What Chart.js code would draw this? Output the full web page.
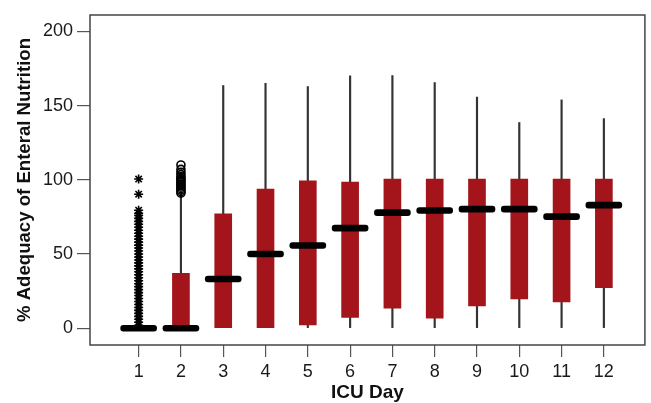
<!DOCTYPE html>
<html>
<head>
<meta charset="utf-8">
<script src="https://cdn.jsdelivr.net/npm/chart.js@4.4.1/dist/chart.umd.min.js"></script>
<style>
  html, body { margin: 0; padding: 0; background: #fff; }
  #wrap { width: 651px; height: 403px; }
</style>
</head>
<body>
<div id="wrap"><canvas id="box-chart"></canvas></div>
<script>
var days = [1, 2, 3, 4, 5, 6, 7, 8, 9, 10, 11, 12];
var whiskerLow  = [0, 0, 0, 0, 0, 0, 0, 0, 0, 0, 0, 0];
var whiskerHigh = [0, 91, 163.5, 165, 162.8, 170, 170.2, 165.5, 155.7, 138.6, 153.8, 141.2];
var q1      = [0, 0, 0, 0, 2.2, 7.2, 13.5, 6.7, 15, 19.7, 17.7, 27.4];
var q3      = [0, 37, 77, 93.7, 99.3, 98.4, 100.5, 100.5, 100.5, 100.5, 100.5, 100.5];
var medians = [0, 0, 33.2, 50, 55.7, 67.4, 77.9, 79.3, 80.2, 80.2, 75.2, 82.9];
// outliers (day 1 stars, day 2 circles)
var day1Outliers = [100.5, 90.3, 79.5, 77.5, 76, 74, 72, 70, 68, 66, 64, 62, 60, 58, 56, 54, 52, 50,
  48, 46, 44, 42, 40, 38, 36, 34, 32, 30, 28, 26, 24, 22, 20, 18, 16, 14, 12, 10, 8, 6, 4, 2];
var day2Outliers = [110, 107, 105, 103.5, 102, 101, 100, 99, 98, 97, 96, 95, 94, 93, 92, 91];
var yTicks = [0, 50, 100, 150, 200];

var boxRed = '#a3151b';
var font = "'Liberation Sans', Arial, Helvetica, sans-serif";

function pairs(lo, hi) {
  return days.map(function (d, i) { return { x: d, y: [lo[i], hi[i]] }; });
}

var frame = {
  id: 'frame',
  afterDraw: function (chart) {
    var a = chart.chartArea, ctx = chart.ctx;
    ctx.save();
    ctx.strokeStyle = '#444';
    ctx.lineWidth = 1.5;
    ctx.strokeRect(a.left, a.top, a.right - a.left, a.bottom - a.top);
    ctx.restore();
  }
};

new Chart(document.getElementById('box-chart'), {
  type: 'bar',
  data: {
    datasets: [{
      label: 'whisker',
      data: pairs(whiskerLow, whiskerHigh),
      backgroundColor: '#333',
      barThickness: 1.5,
      grouped: false,
      order: 4
    }, {
      label: 'box',
      data: pairs(q1, q3),
      backgroundColor: boxRed,
      barThickness: 17,
      grouped: false,
      order: 3
    }, {
      label: 'median',
      data: days.map(function (d, i) { return { x: d, y: [medians[i] - 2, medians[i] + 2] }; }),
      backgroundColor: '#000',
      barThickness: 36,
      borderRadius: 3,
      borderSkipped: false,
      grouped: false,
      order: 2
    }, {
      type: 'scatter',
      label: 'day 1 outliers',
      data: day1Outliers.map(function (v) { return { x: 1, y: v }; }),
      pointStyle: 'star',
      radius: 4.5,
      borderColor: '#000',
      borderWidth: 1.6,
      order: 1
    }, {
      type: 'scatter',
      label: 'day 2 outliers',
      data: day2Outliers.map(function (v) { return { x: 2, y: v }; }),
      pointStyle: 'circle',
      radius: 4,
      backgroundColor: 'rgba(0,0,0,0)',
      borderColor: '#000',
      borderWidth: 1.6,
      order: 1
    }]
  },
  options: {
    responsive: true,
    maintainAspectRatio: false,
    animation: false,
    layout: { padding: { top: 15, right: 1, left: 0, bottom: 0 } },
    plugins: { legend: { display: false }, tooltip: { enabled: false } },
    scales: {
      x: {
        type: 'linear',
        offset: false,
        min: -0.15,
        max: 12.97,
        afterBuildTicks: function (scale) { scale.ticks = days.map(function (d) { return { value: d }; }); },
        afterFit: function (scale) { scale.height = 58; },
        grid: { offset: false, drawOnChartArea: false, tickLength: 12, color: '#555', lineWidth: 1.2 },
        border: { display: false },
        ticks: { color: '#1a1a1a', padding: 4, maxRotation: 0, autoSkip: false, font: { family: font, size: 18 } },
        title: { display: true, text: 'ICU Day', color: '#111', padding: { top: 0, bottom: 1 },
                 font: { family: font, size: 19, weight: 'bold', lineHeight: 1 } }
      },
      y: {
        min: -11.3,
        max: 211,
        afterBuildTicks: function (scale) { scale.ticks = yTicks.map(function (v) { return { value: v }; }); },
        afterFit: function (scale) { scale.width = 90; },
        grid: { drawOnChartArea: false, tickLength: 13, color: '#555', lineWidth: 1.2 },
        border: { display: false },
        ticks: { color: '#1a1a1a', padding: 4, font: { family: font, size: 18 } },
        title: { display: true, text: '% Adequacy of Enteral Nutrition', color: '#111', padding: { top: 14, bottom: 0 },
                 font: { family: font, size: 18.6, weight: 'bold', lineHeight: 1.2 } }
      }
    }
  },
  plugins: [frame, {
    id: 'white',
    beforeDraw: function (chart) {
      var ctx = chart.ctx;
      ctx.save();
      ctx.fillStyle = '#fff';
      ctx.fillRect(0, 0, chart.width, chart.height);
      ctx.restore();
    }
  }]
});
</script>
</body>
</html>
